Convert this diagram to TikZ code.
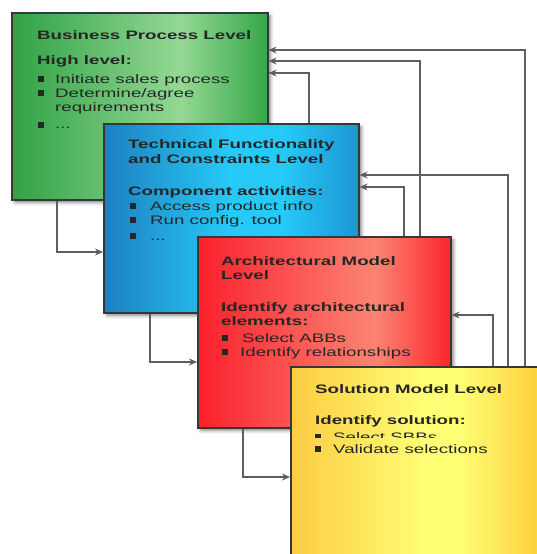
\documentclass[tikz,border=0pt]{standalone}
\usepackage{fontspec}
\usetikzlibrary{arrows.meta,shadows.blur}
\newfontfamily\boxfont[FakeStretch=1.52]{Liberation Sans}

% box colours: edge, highlight, edge
\definecolor{gA}{RGB}{48,162,70}
\definecolor{gB}{RGB}{148,216,148}
\definecolor{gC}{RGB}{52,168,72}
\definecolor{bA}{RGB}{30,128,192}
\definecolor{bB}{RGB}{38,202,248}
\definecolor{bC}{RGB}{28,150,210}
\definecolor{rA}{RGB}{250,32,44}
\definecolor{rB}{RGB}{252,132,116}
\definecolor{rC}{RGB}{250,38,44}
\definecolor{yA}{RGB}{252,204,66}
\definecolor{yB}{RGB}{255,255,118}
\definecolor{yC}{RGB}{252,208,62}
\definecolor{edge}{RGB}{55,55,55}
\definecolor{ink}{RGB}{38,38,38}
\definecolor{wire}{RGB}{95,95,95}

\pgfdeclarehorizontalshading{greenfill}{100bp}{color(0bp)=(gA); color(25bp)=(gA); color(58bp)=(gB); color(75bp)=(gC); color(100bp)=(gC)}
\pgfdeclarehorizontalshading{bluefill}{100bp}{color(0bp)=(bA); color(25bp)=(bA); color(50bp)=(bB); color(60bp)=(bB); color(75bp)=(bC); color(100bp)=(bC)}
\pgfdeclarehorizontalshading{redfill}{100bp}{color(0bp)=(rA); color(25bp)=(rA); color(60bp)=(rB); color(75bp)=(rC); color(100bp)=(rC)}
\pgfdeclarehorizontalshading{yellowfill}{100bp}{color(0bp)=(yA); color(25bp)=(yA); color(50bp)=(yB); color(56bp)=(yB); color(71bp)=(yC); color(100bp)=(yC)}

\begin{document}
\begin{tikzpicture}[x=1pt,y=-1pt,
  levelbox/.style={draw=edge, line width=1.6pt, anchor=north west, inner sep=0pt,
    blur shadow={shadow xshift=3pt, shadow yshift=-3pt, shadow blur radius=3pt, shadow opacity=45}},
  txt/.style={anchor=base west, inner sep=0pt, text=ink, font=\boxfont\fontsize{12.3}{14}\selectfont},
  head/.style={txt, font=\boxfont\bfseries\fontsize{12.3}{14}\selectfont},
  conn/.style={draw=wire, line width=1.2pt, -{Stealth[length=8pt,width=7pt,fill=ink]}},
]
\useasboundingbox (0,0) rectangle (537,554);
\clip (0,0) rectangle (537,554);

% bullet square centred on a point
\newcommand\sqbullet[2]{\fill[ink] (#1-2.75,#2-2.75) rectangle (#1+2.75,#2+2.75);}

% ---- Business Process Level
\node[levelbox, shading=greenfill, minimum width=256pt, minimum height=187pt] (bp) at (11,12) {};
\node[head] (bp1) at (37,39) {Business Process Level};
\node[head] (bp2) at (37,64) {High level:};
\sqbullet{41}{79}\node[txt] (bp3) at (55,83) {Initiate sales process};
\sqbullet{41}{93}\node[txt] (bp4) at (55,97) {Determine/agree};
\node[txt] (bp5) at (55,111) {requirements};
\sqbullet{41}{125}\node[txt] (bp6) at (55,128) {...};

% ---- Technical Functionality and Constraints Level
\node[levelbox, shading=bluefill, minimum width=255pt, minimum height=189pt] (tf) at (103,123) {};
\node[head] (tf1) at (128,148) {Technical Functionality};
\node[head] (tf2) at (128,163) {and Constraints Level};
\node[head] (tf3) at (128,195) {Component activities:};
\sqbullet{133}{206}\node[txt] (tf4) at (150,210) {Access product info};
\sqbullet{133}{220}\node[txt] (tf5) at (150,224) {Run config. tool};
\sqbullet{133}{236}\node[txt] (tf6) at (150,240) {...};

% ---- Architectural Model Level
\node[levelbox, shading=redfill, minimum width=253pt, minimum height=191pt] (am) at (197,236) {};
\node[head] (am1) at (221,265) {Architectural Model};
\node[head] (am2) at (221,279) {Level};
\node[head] (am3) at (221,311) {Identify architectural};
\node[head] (am4) at (221,325) {elements:};
\sqbullet{225}{338}\node[txt] (am5) at (242,342) {Select ABBs};
\sqbullet{225}{352}\node[txt] (am6) at (240,356) {Identify relationships};

% ---- Solution Model Level
\node[levelbox, shading=yellowfill, minimum width=270pt, minimum height=200pt] (sm) at (290,366) {};
\node[head] (sm1) at (315,393) {Solution Model Level};
\node[head] (sm2) at (315,424) {Identify solution:};
\begin{scope}
  \clip (300,420) rectangle (520,437.5);
  \sqbullet{318}{437}\node[txt] (sm3) at (333,441) {Select SBBs};
\end{scope}
\sqbullet{318}{449}\node[txt] (sm4) at (333,453) {Validate selections};

% ---- refinement: each level feeds the next
\draw[conn] (57,0 |- bp.south) |- (tf.west |- 0,252);
\draw[conn] (150,0 |- tf.south) |- (am.west |- 0,362);
\draw[conn] (243,0 |- am.south) |- (sm.west |- 0,477);

% ---- feedback to the higher levels
\draw[conn] (525,0 |- sm.north) |- (bp.east |- 0,50);
\draw[conn] (420,0 |- am.north) |- (bp.east |- 0,61);
\draw[conn] (309,0 |- tf.north) |- (bp.east |- 0,73);
\draw[conn] (508,0 |- sm.north) |- (tf.east |- 0,175);
\draw[conn] (404,0 |- am.north) |- (tf.east |- 0,187);
\draw[conn] (493,0 |- sm.north) |- (am.east |- 0,315);
\end{tikzpicture}
\end{document}
